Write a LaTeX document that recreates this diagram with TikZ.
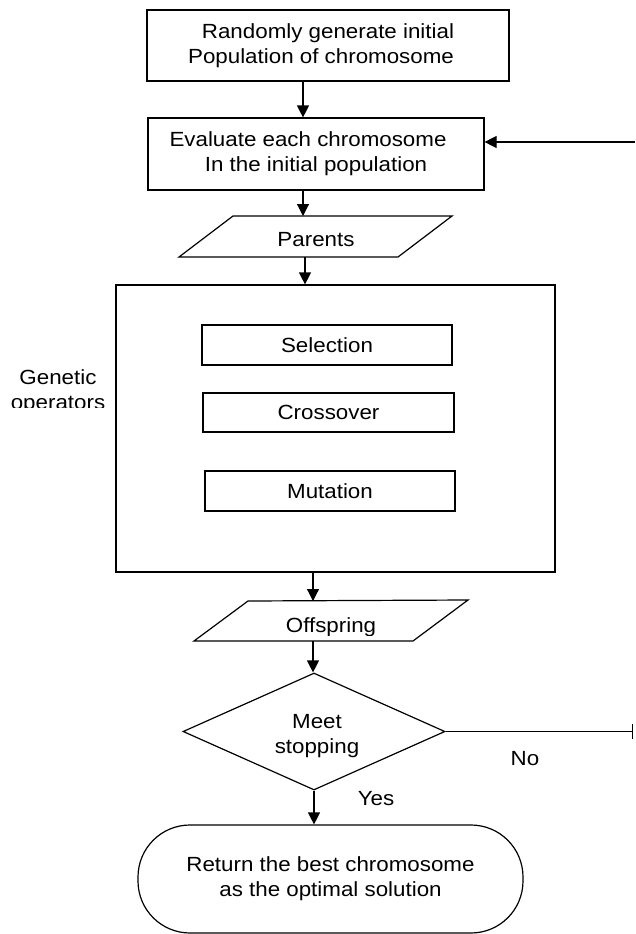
\documentclass[tikz,border=0pt]{standalone}
\usepackage{fontspec}
\setmainfont{Liberation Sans}[FakeStretch=1.09]
\usetikzlibrary{arrows.meta,shapes.geometric}
\begin{document}
\begin{tikzpicture}[x=1pt,y=-1pt,
  every node/.style={font=\fontsize{20.5}{25}\selectfont, inner sep=0pt},
  ln/.style={line width=1.2pt},
  arr/.style={line width=1.2pt,-{Triangle[width=12pt,length=12pt]}},
  boxnode/.style={draw,line width=1.2pt,rectangle,align=center},
  lbl/.style={anchor=base}]
\useasboundingbox (0,0) rectangle (635,934);

% coordinates
\coordinate (x303) at (303,0);
\coordinate (paTL) at (233,216);
\coordinate (paTR) at (452,216);
\coordinate (paBR) at (398,257);
\coordinate (paBL) at (179,257);
\coordinate (paIn) at (303,216);
\coordinate (paOut) at (305,257);
\coordinate (ofTL) at (248,601);
\coordinate (ofTR) at (468,600);
\coordinate (ofBR) at (413,641);
\coordinate (ofBL) at (194,641);
\coordinate (ofIn) at (313,601);
\coordinate (ofOut) at (313,641);
\coordinate (fb) at (635,142);
\coordinate (noEnd) at (633,729);

% boxes
\node[boxnode,minimum width=362pt,minimum height=71pt] (box1) at (328,45.5)
  {Randomly generate initial\\Population of chromosome\hspace*{14pt}};
\node[boxnode,minimum width=336pt,minimum height=72pt] (box2) at (316,154)
  {Evaluate each chromosome\hspace*{16pt}\\In the initial population};

\draw[ln] (paTL) -- (paTR) -- (paBR) -- (paBL) -- cycle;
\node (parents) at (316,240) {Parents};

\node[boxnode,minimum width=439pt,minimum height=287pt] (ops) at (335.5,428.5) {};
\node[boxnode,minimum width=250pt,minimum height=40pt] (sel) at (327,345) {Selection};
\node[boxnode,minimum width=251pt,minimum height=39pt] (cro) at (328.5,412.5) {Crossover};
\node[boxnode,minimum width=250pt,minimum height=40pt] (mut) at (330,491) {Mutation};

\begin{scope}
  \clip (0,300) rectangle (115,407);
  \node[align=center] (gen) at (58,392) {Genetic\\operators};
\end{scope}

\draw[ln] (ofTL) -- (ofTR) -- (ofBR) -- (ofBL) -- cycle;
\begin{scope}
  \clip (150,590) rectangle (500,635);
  \node (off) at (331,627.5) {Offspring};
\end{scope}

\node[diamond,draw,line width=1.2pt,aspect=2.24,minimum width=262pt,minimum height=117pt] (dia) at (314,731.5) {};
\node[align=center] (diat) at (317,736.5) {Meet\\stopping};

\node[boxnode,rounded corners=52pt,minimum width=385pt,minimum height=108pt] (term) at (330.5,879)
  {Return the best chromosome\\as the optimal solution};

\node[lbl] (no) at (525,765) {No};
\node[lbl] (yes) at (376,805) {Yes};

% connectors
\draw[arr] (box1.south -| x303) -- (box2.north -| x303);
\draw[arr] (fb) -- (fb -| box2.east);
\draw[arr] (box2.south -| paIn) -- (paIn);
\draw[arr] (paOut) -- (paOut |- ops.north);
\draw[arr] (ops.south -| ofIn) -- (ofIn);
\draw[arr] (ofOut) -- (ofOut |- dia.north);
\draw[ln,-{Bar[width=15pt]}] (dia.east) -- (dia.east -| noEnd);
\draw[arr] (dia.south) -- (dia.south |- term.north);
\end{tikzpicture}
\end{document}
